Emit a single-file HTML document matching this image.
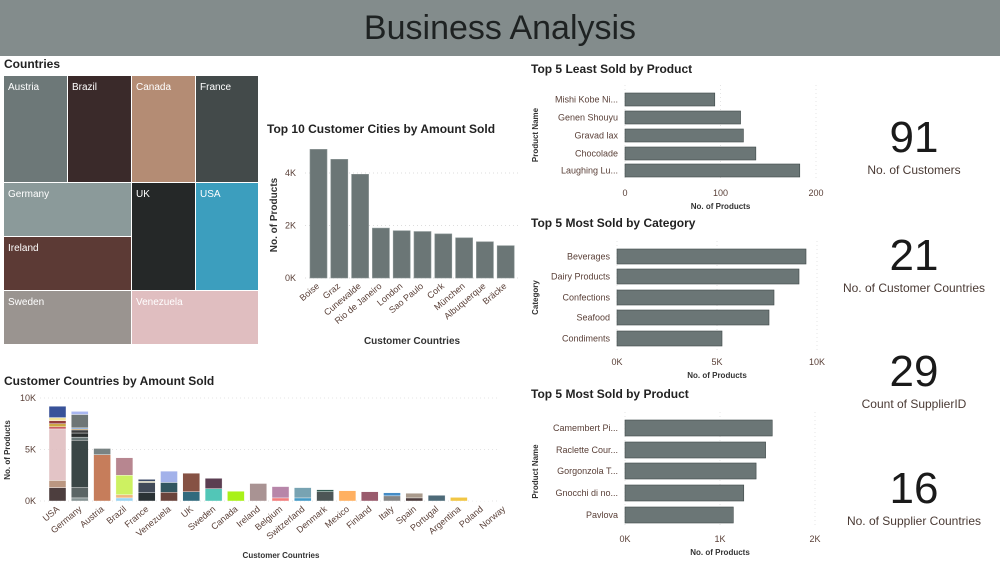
<!DOCTYPE html>
<html><head><meta charset="utf-8"><style>
body{margin:0;width:1000px;height:563px;background:#fff;font-family:"Liberation Sans",sans-serif;overflow:hidden;position:relative}
#hdr{position:absolute;left:0;top:0;width:1000px;height:56px;background:#838c8c;text-align:center;line-height:56px;font-size:34px;color:#1e2222}
svg{position:absolute;left:0;top:0}
.t{font-size:12px;fill:#222;font-weight:bold}
.tk{font-size:9px;fill:#5a4038}
.ax{font-size:8px;fill:#333;font-weight:bold}
.kv{font-size:44px;fill:#1a1a1a}
.kl{font-size:12px;fill:#4a3a34}
</style></head><body>
<div id="hdr">Business Analysis</div>
<svg id="s" width="1000" height="563"></svg>
<script>
const NS="http://www.w3.org/2000/svg";
const S=document.getElementById('s');
function el(t,a,txt){const e=document.createElementNS(NS,t);for(const k in a)e.setAttribute(k,a[k]);if(txt!==undefined)e.textContent=txt;S.appendChild(e);return e;}

// Treemap
const tmNames=["Austria","Brazil","Canada","France","Germany","UK","USA","Ireland","Sweden","Venezuela"];
const tmRects=[[4,76,63,106,"#6d7878"],[68,76,63,106,"#3a2a2a"],[132,76,63,106,"#b48c74"],[196,76,62,106,"#434a4a"],[4,183,127,53,"#8b9a9a"],[132,183,63,107,"#252828"],[196,183,62,107,"#3c9ebe"],[4,237,127,53,"#5c3a35"],[4,291,127,53,"#9a9490"],[132,291,126,53,"#e0bec0"]];
let t=el('text',{x:4,y:68,class:'t'},'Countries');

tmNames.forEach((n,i)=>{const r=tmRects[i];
 let e=el('rect',{x:r[0],y:r[1],width:r[2],height:r[3],fill:r[4]});
 
 let l=el('text',{x:r[0]+4,y:r[1]+14,style:'font-size:10px;fill:#fff'},n);
 });

// Top 10 cities
const cityNames=["Boise","Graz","Cunewalde","Rio de Janeiro","London","Sao Paulo","Cork","München","Albuquerque","Bräcke"];
const cityVals=[4.9,4.52,3.95,1.9,1.8,1.77,1.68,1.53,1.38,1.23];
const cityTicks=[0,2,4];
t=el('text',{x:267,y:133,class:'t'},'Top 10 Customer Cities by Amount Sold');

const cy=v=>278-v*26.25, cx=i=>310+i*20.8;
cityTicks.forEach(v=>{let g=el('line',{x1:305,x2:520,y1:cy(v),y2:cy(v),stroke:'#ddd','stroke-dasharray':'1,3'});
 let l=el('text',{x:296,y:cy(v)+3,class:'tk','text-anchor':'end'},v+'K');});
cityVals.forEach((v,i)=>{let b=el('rect',{x:cx(i),y:cy(v),width:17,height:v*26.25,fill:'#6b7676',stroke:'#8a9494','stroke-width':0.6});
 
 let l=el('text',{x:cx(i)+10,y:287,class:'tk','text-anchor':'end',transform:`rotate(-40 ${cx(i)+10} 287)`},cityNames[i]);
 });
t=el('text',{x:277,y:215,class:'ax','text-anchor':'middle',transform:'rotate(-90 277 215)',style:'font-size:10px'},'No. of Products');
t=el('text',{x:412,y:344,class:'ax','text-anchor':'middle',style:'font-size:10px'},'Customer Countries');

// Horizontal bar charts
function hbar(key,title,ty,names,vals,x0,scale,ticks,tickLbl,by,bh,ytitle){
 let t=el('text',{x:531,y:ty,class:'t'},title);
 const bot=by[by.length-1]+bh;
 ticks.forEach((v,i)=>{const x=x0+v*scale;let g=el('line',{x1:x,x2:x,y1:by[0]-8,y2:bot+4,stroke:'#e4e4e4','stroke-dasharray':'1,3'});
  let l=el('text',{x:x,y:bot+19,class:'tk','text-anchor':'middle'},tickLbl[i]);});
 vals.forEach((v,i)=>{let b=el('rect',{x:x0,y:by[i],width:v*scale,height:bh,fill:'#6b7676',stroke:'#3e4848','stroke-width':0.6});
  
  let l=el('text',{x:x0-7,y:by[i]+bh/2+3,class:'tk','text-anchor':'end'},names[i]);});
 const my=(by[0]+bot)/2;
 t=el('text',{x:538,y:my,class:'ax','text-anchor':'middle',transform:`rotate(-90 538 ${my})`},ytitle);
 t=el('text',{x:x0+ticks[1]*scale,y:bot+32,class:'ax','text-anchor':'middle'},'No. of Products');
}
const leastNames=["Mishi Kobe Ni...","Genen Shouyu","Gravad lax","Chocolade","Laughing Lu..."];
const leastVals=[94,121,124,137,183];
const leastTicks=[0,100,200];
hbar('least-sold','Top 5 Least Sold by Product',73,leastNames,leastVals,625,0.955,leastTicks,["0","100","200"],[93,111,129,147,164],13,'Product Name');
const catNames=["Beverages","Dairy Products","Confections","Seafood","Condiments"];
const catVals=[9.45,9.1,7.85,7.6,5.25];
const catTicks=[0,5,10];
hbar('category','Top 5 Most Sold by Category',227,catNames,catVals,617,20,catTicks,["0K","5K","10K"],[249,269,290,310,331],15,'Category');
const prodNames=["Camembert Pi...","Raclette Cour...","Gorgonzola T...","Gnocchi di no...","Pavlova"];
const prodVals=[1.55,1.48,1.38,1.25,1.14];
const prodTicks=[0,1,2];
hbar('most-sold','Top 5 Most Sold by Product',398,prodNames,prodVals,625,95,prodTicks,["0K","1K","2K"],[420,442,463,485,507],16,'Product Name');
// fix left tick on category/most-sold: tick at x0
// KPIs
const kpiVals=["91","21","29","16"];
const kpiLabels=["No. of Customers","No. of Customer Countries","Count of SupplierID","No. of Supplier Countries"];
const kpiY=[152,270,386,503];
kpiVals.forEach((v,i)=>{let a=el('text',{x:914,y:kpiY[i],class:'kv','text-anchor':'middle'},v);
 let b=el('text',{x:914,y:kpiY[i]+22,class:'kl','text-anchor':'middle'},kpiLabels[i]);});

// Stacked chart
const countries=["USA","Germany","Austria","Brazil","France","Venezuela","UK","Sweden","Canada","Ireland","Belgium","Switzerland","Denmark","Mexico","Finland","Italy","Spain","Portugal","Argentina","Poland","Norway"];
const segVals=[[1.3,0.7,5.0,0.2,0.3,0.3,0.3,1.1],[0.3,1.0,4.6,0.3,0.4,0.3,0.1,0.1,1.3,0.3],[4.5,0.6],[0.3,0.3,1.9,1.7],[0.8,1.0,0.1,0.2],[0.85,0.95,1.1],[0.9,1.8],[1.2,1.0],[0.95],[1.7],[0.3,1.1],[0.3,1.0],[0.9,0.2],[1.0],[0.9],[0.5,0.3],[0.3,0.45],[0.55],[0.35],[0.02],[0.0]];
const segCols=[["#3a2a2a","#b48c74","#e0bec0","#c0404a","#c8a030","#8b2a2a","#f0e090","#23408e"],["#7a8888","#4a5555","#253232","#5a6a6a","#141818","#2a2a2a","#a07020","#3070c0","#5f6868","#a0b0f0"],["#c0704a","#6b7676"],["#90d0f0","#f0b070","#c8f050","#b07a84"],["#141c20","#2e3848","#f0e090","#283858"],["#5a3028","#1c4550","#9aaae8"],["#1c5a70","#7a4030"],["#40c0b0","#4a2a40"],["#a0f000"],["#a08888"],["#f07070","#b07aa0"],["#3090c0","#6a9aaa"],["#3a4444","#1c4a40"],["#ffa850"],["#904a5e"],["#7a7a7a","#3080c0"],["#3a2828","#a09080"],["#3a5a6a"],["#f0c030"],["#e0e0e0"],["#ffffff"]];
const yTicks=[0,5,10];
t=el('text',{x:4,y:385,class:'t'},'Customer Countries by Amount Sold');
const sy=v=>501-v*10.3, sx=i=>49+i*22.3;
yTicks.forEach(v=>{let g=el('line',{x1:40,x2:500,y1:sy(v),y2:sy(v),stroke:'#e4e4e4','stroke-dasharray':'1,3'});
 let l=el('text',{x:36,y:sy(v)+3,class:'tk','text-anchor':'end'},v+'K');});
countries.forEach((c,i)=>{let acc=0;segVals[i].forEach((v,j)=>{
 let r=el('rect',{x:sx(i),y:sy(acc+v),width:17,height:v*10.3,fill:segCols[i][j],stroke:'#fff','stroke-width':0.4,opacity:0.9});
 acc+=v;});
 let l=el('text',{x:sx(i)+11,y:510,class:'tk','text-anchor':'end',transform:`rotate(-40 ${sx(i)+11} 510)`},c);
 });
t=el('text',{x:10,y:450,class:'ax','text-anchor':'middle',transform:'rotate(-90 10 450)'},'No. of Products');
t=el('text',{x:281,y:558,class:'ax','text-anchor':'middle'},'Customer Countries');
</script>
</body></html>
